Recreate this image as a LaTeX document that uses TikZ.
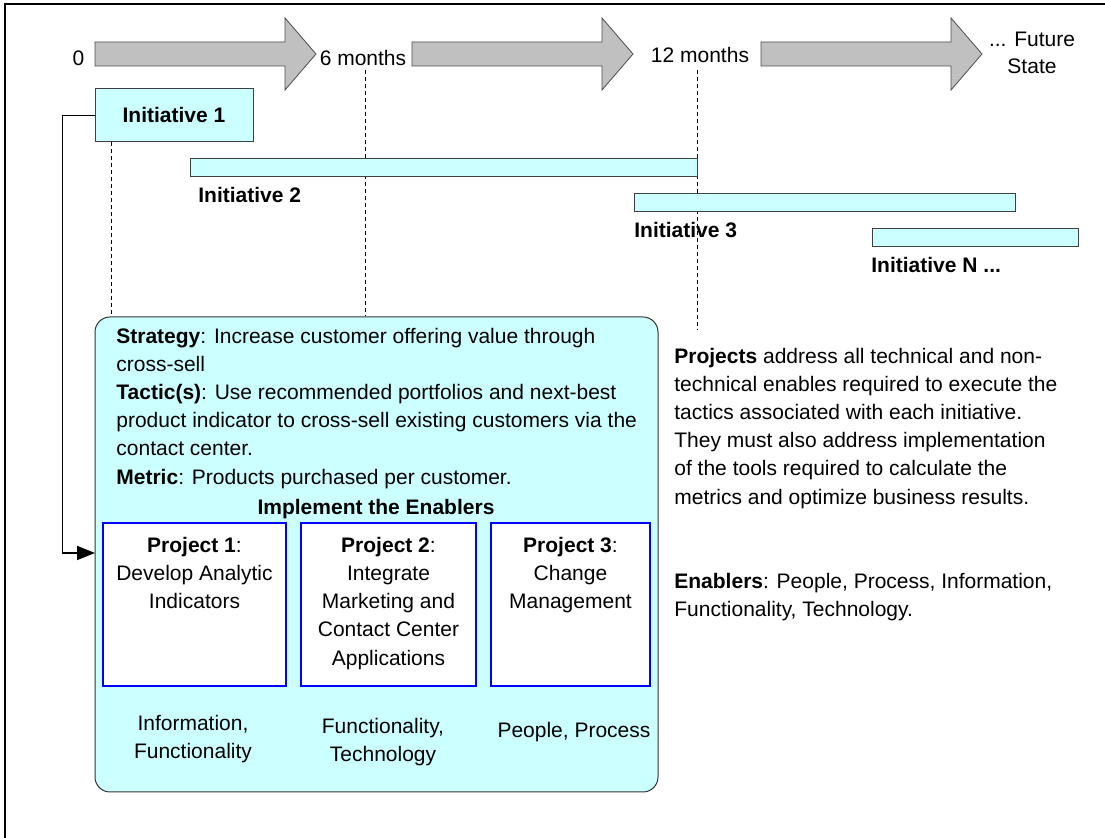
\documentclass[tikz,border=0pt]{standalone}
\usepackage{fontspec}
\setmainfont{Liberation Sans}
\usetikzlibrary{positioning,arrows.meta}

\definecolor{initcyan}{RGB}{204,255,255}
\definecolor{arrowgray}{RGB}{192,192,192}
\definecolor{projblue}{RGB}{0,0,255}

\begin{document}
\begin{tikzpicture}[
		% pixel-like units, y grows downwards
		x=0.5pt, y=-0.5pt,
		font=\fontsize{10.5}{14.1}\selectfont,
		timearrow/.style={draw=black!70, fill=arrowgray, line width=0.4pt},
		guide/.style={line width=0.4pt, dash pattern=on 2pt off 1.5pt},
		initbox/.style={draw=black!75, fill=initcyan, line width=0.5pt},
		initlabel/.style={anchor=base west, inner sep=0pt, font=\fontsize{10.5}{14.1}\selectfont\bfseries},
		ticklabel/.style={anchor=base, inner sep=0pt},
		card/.style={draw=black!80, fill=initcyan, line width=0.5pt, rounded corners=7.5pt,
			minimum width=281.5pt, minimum height=237.5pt},
		project/.style={draw=projblue, fill=white, line width=1pt, minimum height=81.5pt},
		ptext/.style={anchor=north, inner sep=0pt, align=center},
		note/.style={anchor=north west, inner sep=0pt, align=left},
		link/.style={line width=0.9pt, -{Triangle[length=9pt,width=7pt]}},
		]
		\useasboundingbox (0,0) rectangle (1105,838);
		\draw[line width=1.2pt] (1105,4) -- (5,4) -- (5,838);

		% time line
		\draw[timearrow] (95,42) -- (285,42) -- (285,18) -- (316,54) -- (285,90) -- (285,66) -- (95,66) -- cycle;
		\draw[timearrow] (412,42) -- (602,42) -- (602,18) -- (633,54) -- (602,90) -- (602,66) -- (412,66) -- cycle;
		\draw[timearrow] (761,42) -- (951,42) -- (951,18) -- (982,54) -- (951,90) -- (951,66) -- (761,66) -- cycle;
		\node[ticklabel] (t0) at (78.5,66) {0};
		\node[ticklabel] (t6) at (363,66) {6 months};
		\node[ticklabel] (t12) at (700,63) {12 months};
		\node[anchor=north, inner sep=0pt, align=center,
			font=\fontsize{10.5}{13.5}\selectfont] (tfut) at (1032,32) {... Future\\State};

		% initiatives
		\node[initbox, minimum width=79pt, minimum height=26.5pt,
			font=\fontsize{10.5}{14.1}\selectfont\bfseries] (init1) at (174,115.5) {Initiative 1};
		\node[card] (card) at (376.5,554.5) {};

		\draw[guide] (111,142) -- (111,316);
		\draw[guide] (365,70) -- (365,316);
		\draw[guide] (697,70) -- (697,330);

		\draw[initbox] (190,159) rectangle ++(507,18);
		\node[initlabel] (lab2) at (198,203) {Initiative 2};
		\draw[initbox] (634,194) rectangle ++(381,18);
		\node[initlabel] (lab3) at (634,238) {Initiative 3};
		\draw[initbox] (872,229) rectangle ++(206,18);
		\node[initlabel] (labn) at (871,273) {Initiative N ...};

		% strategy card
		\node[note] (strategy) at (116,327.5) {\textbf{Strategy}: Increase customer offering value through\\
			cross-sell\\
			\textbf{Tactic(s)}: Use recommended portfolios and next-best\\
			product indicator to cross-sell existing customers via the\\
			contact center.\\
			\textbf{Metric}: Products purchased per customer.};
		\node[ticklabel, font=\fontsize{10.5}{14.1}\selectfont\bfseries] (enabhead) at (376,515) {Implement the Enablers};

		\node[project, minimum width=91.5pt] (proj1) at (194.5,604.5) {};
		\node[project, minimum width=87.5pt] (proj2) at (388.5,604.5) {};
		\node[project, minimum width=79.5pt] (proj3) at (570.5,604.5) {};
		\node[ptext] (p1txt) at ([yshift=-7.3pt]proj1.north) {\textbf{Project 1}:\\Develop Analytic\\Indicators};
		\node[ptext] (p2txt) at ([yshift=-7.3pt]proj2.north) {\textbf{Project 2}:\\Integrate\\Marketing and\\Contact Center\\Applications};
		\node[ptext] (p3txt) at ([yshift=-7.3pt]proj3.north) {\textbf{Project 3}:\\Change\\Management};

		\node[ptext] (e1) at (193,714.5) {Information,\\Functionality};
		\node[ptext] (e2) at (383,717.5) {Functionality,\\Technology};
		\node[ticklabel] (e3) at (574,738) {People, Process};

		% notes on the right
		\node[note] (projnote) at (674,347.5) {\textbf{Projects} address all technical and non-\\
			technical enables required to execute the\\
			tactics associated with each initiative.\\
			They must also address implementation\\
			of the tools required to calculate the\\
			metrics and optimize business results.};
		\node[note] (enabnote) at (674,572.5) {\textbf{Enablers}: People, Process, Information,\\
			Functionality, Technology.};

		\coordinate (p1in) at (95,553);
		\draw[link] (init1.west) -- ++(-32,0) |- (p1in);
	\end{tikzpicture}
\end{document}
